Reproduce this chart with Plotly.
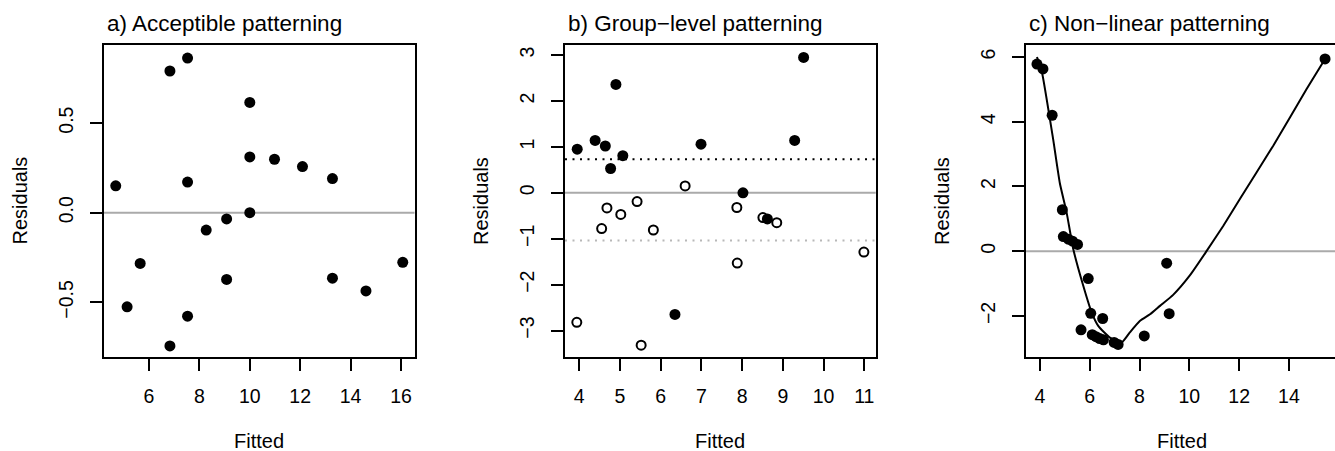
import plotly.graph_objects as go

# ---------------- data ----------------
# a) Acceptible patterning
a_fitted = [4.68, 5.13, 5.65, 6.83, 6.83, 7.53, 7.53, 7.53, 8.27, 9.08, 9.08,
            10.0, 10.0, 10.0, 10.98, 12.09, 13.28, 13.28, 14.61, 16.07]
a_resid = [0.15, -0.525, -0.283, 0.79, -0.743, 0.862, 0.171, -0.577, -0.097, -0.035, -0.372,
           0.615, 0.311, 0.0, 0.298, 0.257, 0.19, -0.365, -0.436, -0.277]

# b) Group-level patterning (two groups)
b_fitted_filled = [3.95, 4.39, 4.64, 4.77, 4.90, 5.07, 6.35, 6.99, 8.02, 8.62, 9.29, 9.51]
b_resid_filled = [0.95, 1.14, 1.02, 0.53, 2.36, 0.81, -2.65, 1.06, 0.0, -0.57, 1.14, 2.95]
b_fitted_open = [3.94, 4.55, 4.68, 5.02, 5.42, 5.52, 5.82, 6.60, 7.87, 7.88, 8.51, 8.85, 10.99]
b_resid_open = [-2.82, -0.78, -0.33, -0.47, -0.19, -3.32, -0.81, 0.15, -0.32, -1.53, -0.54, -0.65, -1.29]
b_mean_filled = 0.73
b_mean_open = -1.04

# c) Non-linear patterning
c_fitted = [3.88, 4.12, 4.49, 4.90, 4.94, 5.14, 5.31, 5.51, 5.94, 6.04, 6.52, 5.65,
            6.10, 6.25, 6.40, 6.55, 6.98, 7.14, 8.19, 9.09, 9.19, 15.45]
c_resid = [5.78, 5.63, 4.20, 1.28, 0.45, 0.37, 0.31, 0.21, -0.845, -1.92, -2.08, -2.43,
           -2.58, -2.64, -2.70, -2.74, -2.82, -2.88, -2.62, -0.37, -1.93, 5.94]
c_smooth_x = [3.88, 4.07, 4.53, 4.80, 5.07, 5.34, 5.74, 6.08, 6.34, 6.81, 7.28, 7.61,
              8.02, 8.42, 8.82, 9.35, 10.02, 10.69, 11.36, 12.03, 13.37, 14.71, 15.45]
c_smooth_y = [6.0, 5.57, 3.46, 2.1, 1.2, 0.06, -1.07, -1.90, -2.31, -2.67, -2.82, -2.51,
              -2.15, -1.95, -1.69, -1.35, -0.75, 0.0, 0.78, 1.61, 3.26, 5.01, 5.94]

titles = ["a) Acceptible patterning", "b) Group\u2212level patterning", "c) Non\u2212linear patterning"]
x_label = "Fitted"
y_label = "Residuals"

a_xticks = [6, 8, 10, 12, 14, 16]
a_yticks = [-0.5, 0.0, 0.5]
a_yticktext = ["\u22120.5", "0.0", "0.5"]
b_xticks = [4, 5, 6, 7, 8, 9, 10, 11]
b_yticks = [-3, -2, -1, 0, 1, 2, 3]
b_yticktext = ["\u22123", "\u22122", "\u22121", "0", "1", "2", "3"]
c_xticks = [4, 6, 8, 10, 12, 14]
c_yticks = [-2, 0, 2, 4, 6]
c_yticktext = ["\u22122", "0", "2", "4", "6"]

# ---------------- layout geometry ----------------
W, H = 1335, 451
FONT = "Liberation Sans, Arial, Helvetica, sans-serif"
left_px = [103.5, 565.0, 1026.0]
right_px = [414.5, 875.7, 1335.0]
top_px, bot_px = 45.0, 356.7
ydom = [1 - bot_px / H, 1 - top_px / H]

fig = go.Figure()
DOT = dict(color="black", size=11)

fig.add_trace(go.Scatter(x=a_fitted, y=a_resid, mode="markers", marker=DOT,
                         xaxis="x", yaxis="y", showlegend=False))
fig.add_trace(go.Scatter(x=b_fitted_open, y=b_resid_open, mode="markers",
                         marker=dict(symbol="circle-open", color="black", size=9,
                                     line=dict(width=2, color="black")),
                         xaxis="x2", yaxis="y2", showlegend=False))
fig.add_trace(go.Scatter(x=b_fitted_filled, y=b_resid_filled, mode="markers", marker=DOT,
                         xaxis="x2", yaxis="y2", showlegend=False))
fig.add_trace(go.Scatter(x=c_smooth_x, y=c_smooth_y, mode="lines",
                         line=dict(color="black", width=2, shape="spline", smoothing=0.5),
                         xaxis="x3", yaxis="y3", showlegend=False))
fig.add_trace(go.Scatter(x=c_fitted, y=c_resid, mode="markers", marker=DOT,
                         xaxis="x3", yaxis="y3", showlegend=False))

GREY = "#AAAAAA"
shapes = []
for i, ax in enumerate(["", "2", "3"]):
    shapes.append(dict(type="line", xref=f"x{ax} domain", yref=f"y{ax}", x0=0, x1=1, y0=0, y1=0,
                       line=dict(color=GREY, width=2), layer="below"))
shapes.append(dict(type="line", xref="x2 domain", yref="y2", x0=0, x1=1,
                   y0=b_mean_filled, y1=b_mean_filled,
                   line=dict(color="black", width=2, dash="2px,5.5px"), layer="below"))
shapes.append(dict(type="line", xref="x2 domain", yref="y2", x0=0, x1=1,
                   y0=b_mean_open, y1=b_mean_open,
                   line=dict(color="#B8B8B8", width=2, dash="2px,5.5px"), layer="below"))


def xaxis(i, rng, ticks, mirror=True):
    return dict(domain=[left_px[i] / W, right_px[i] / W], range=rng, anchor=["y", "y2", "y3"][i],
                tickvals=ticks, ticks="outside", ticklen=12, tickwidth=1.8, tickcolor="black",
                showline=True, linecolor="black", linewidth=1.8, mirror=mirror,
                showgrid=False, zeroline=False, ticklabelstandoff=9,
                tickfont=dict(family=FONT, size=19.5, color="black"))


def yaxis(i, rng, ticks, text, mirror=True):
    return dict(domain=ydom, range=rng, anchor=["x", "x2", "x3"][i],
                tickvals=ticks, ticktext=text, tickangle=-90,
                ticks="outside", ticklen=12, tickwidth=1.8, tickcolor="black",
                showline=True, linecolor="black", linewidth=1.8, mirror=mirror,
                showgrid=False, zeroline=False, ticklabelstandoff=9,
                tickfont=dict(family=FONT, size=19.5, color="black"))


annotations = []
for i in range(3):
    annotations.append(dict(text=titles[i], xref="paper", yref="paper",
                            x=(left_px[i] + 1) / W, y=1 - 23 / H, xanchor="left", yanchor="middle",
                            showarrow=False, font=dict(family=FONT, size=22.5, color="black")))
    cx = (left_px[i] + (right_px[i] if i < 2 else left_px[i] + 311)) / 2
    annotations.append(dict(text=x_label, xref="paper", yref="paper",
                            x=cx / W, y=0, xanchor="center", yanchor="bottom", yshift=-3,
                            showarrow=False, font=dict(family=FONT, size=20, color="black")))
    annotations.append(dict(text=y_label, xref="paper", yref="paper",
                            x=(left_px[i] - 84) / W, y=1 - 201 / H, xanchor="center", yanchor="middle",
                            textangle=-90, showarrow=False,
                            font=dict(family=FONT, size=20, color="black")))

fig.update_layout(
    width=W, height=H, margin=dict(l=0, r=0, t=0, b=0),
    paper_bgcolor="white", plot_bgcolor="white",
    xaxis=xaxis(0, [4.194, 16.536], a_xticks),
    yaxis=yaxis(0, [-0.803, 0.935], a_yticks, a_yticktext),
    xaxis2=xaxis(1, [3.65, 11.28], b_xticks),
    yaxis2=yaxis(1, [-3.57, 3.22], b_yticks, b_yticktext),
    xaxis3=xaxis(2, [3.44, 15.85], c_xticks),
    yaxis3=yaxis(2, [-3.26, 6.37], c_yticks, c_yticktext, mirror=False),
    shapes=shapes, annotations=annotations,
    font=dict(family=FONT, color="black"),
)

fig.write_html("out.html")
